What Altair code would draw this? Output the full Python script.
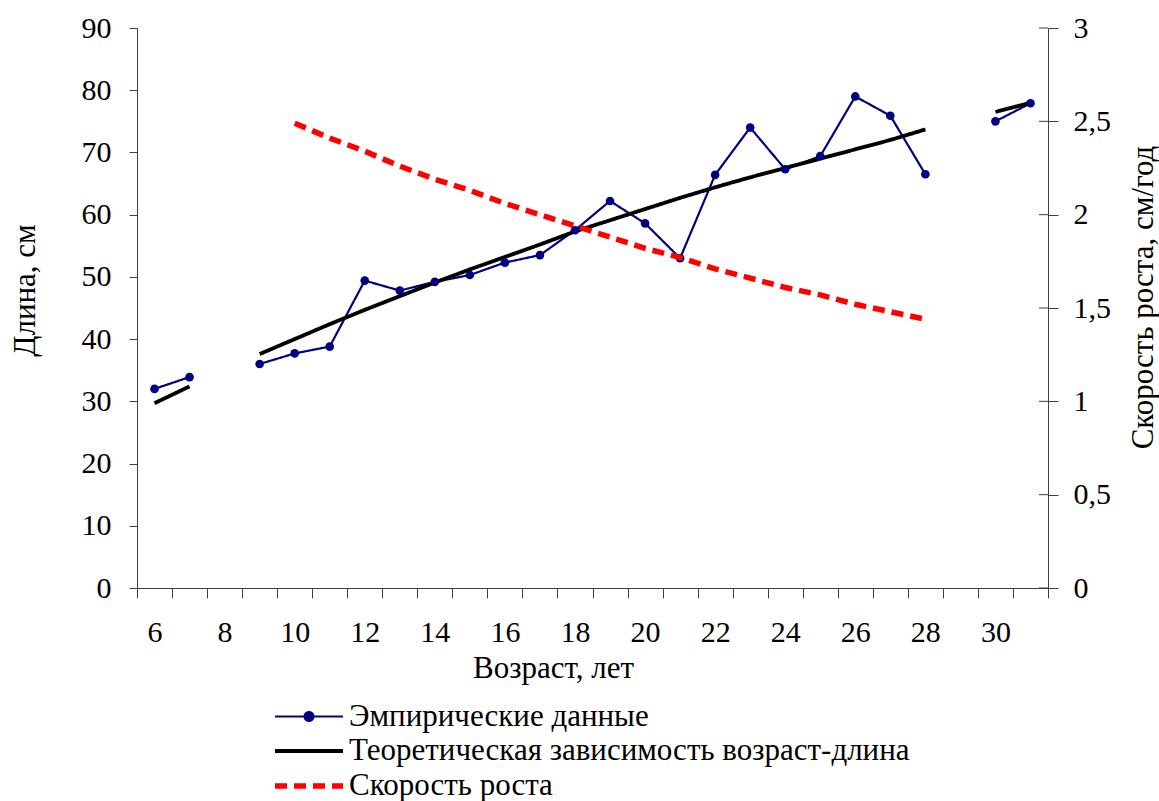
import altair as alt
import pandas as pd

# Ages (years) for each series
ages_emp = [6, 7, 9, 10, 11, 12, 13, 14, 15, 16, 17, 18, 19, 20, 21, 22, 23, 24,
            25, 26, 27, 28, 30, 31]
length_emp = [32.0, 33.9, 36.0, 37.7, 38.8, 49.4, 47.8, 49.2, 50.3, 52.3, 53.5,
              57.5, 62.2, 58.6, 53.0, 66.4, 74.0, 67.3, 69.4, 79.0, 75.9, 66.5,
              75.0, 77.9]
seg_emp = ["a", "a", "b", "b", "b", "b", "b", "b", "b", "b", "b", "b", "b", "b",
           "b", "b", "b", "b", "b", "b", "b", "b", "c", "c"]

ages_theor = [6, 7, 9, 10, 11, 12, 13, 14, 15, 16, 17, 18, 19, 20, 21, 22, 23,
              24, 25, 26, 27, 28, 30, 31]
length_theor = [29.7, 32.4, 37.6, 40.0, 42.4, 44.7, 46.9, 49.1, 51.2, 53.2, 55.2,
                57.3, 59.1, 60.9, 62.7, 64.4, 66.0, 67.5, 69.0, 70.5, 72.0, 73.7,
                76.5, 78.0]
seg_theor = seg_emp

ages_speed = [10, 11, 12, 13, 14, 15, 16, 17, 18, 19, 20, 21, 22, 23, 24, 25,
              26, 27, 28]
speed = [2.49, 2.41, 2.34, 2.26, 2.19, 2.13, 2.06, 2.00, 1.94, 1.88, 1.82, 1.77,
         1.71, 1.66, 1.61, 1.57, 1.52, 1.48, 1.44]

series_names = ["Эмпирические данные",
                "Теоретическая зависимость возраст-длина",
                "Скорость роста"]

x_ticks = [v + 0.5 for v in range(5, 32)]
left_ticks = list(range(0, 91, 10))
right_ticks = [0, 0.5, 1, 1.5, 2, 2.5, 3]

FONT = "Liberation Serif"
NAVY = "#000080"
W, H = 911, 560

len_df = pd.concat([
    pd.DataFrame({"age": ages_emp, "value": length_emp, "seg": seg_emp,
                  "series": series_names[0]}),
    pd.DataFrame({"age": ages_theor, "value": length_theor,
                  "seg": [s + "t" for s in seg_theor],
                  "series": series_names[1]}),
])
pts_df = pd.DataFrame({"age": ages_emp, "value": length_emp})
speed_df = pd.DataFrame({"age": ages_speed, "value": speed, "seg": "s",
                         "series": series_names[2]})
rtick_df = pd.DataFrame({"value": right_ticks})

x_enc = alt.X(
    "age:Q",
    scale=alt.Scale(domain=[5.5, 31.5], nice=False, zero=False),
    axis=alt.Axis(
        values=x_ticks,
        labelExpr="((datum.value + 0.5) % 2 == 0 && datum.value < 30.5) ? format(datum.value + 0.5, 'd') : ''",
        labelOffset=W / 26 / 2,
        tickSize=10,
        labelPadding=19,
        grid=False,
        title="Возраст, лет",
        titleX=416,
        titleY=89,
        titleBaseline="alphabetic",
        titleAlign="center",
        labelFlush=False,
        labelOverlap=False,
    ),
)

# legend keys: a wide stroke, with a dot for the empirical series
LINE_KEY = "M-2,0H2"
DOT_KEY = "M-2,0H2M-0.26,0A0.26,0.26,0,1,0,0.26,0A0.26,0.26,0,1,0,-0.26,0"

legend = alt.Legend(
    title=None,
    orient="none",
    legendX=152,
    legendY=670,
    direction="vertical",
    symbolType=alt.expr(
        f"datum.value == 'Эмпирические данные' ? '{DOT_KEY}' : '{LINE_KEY}'"
    ),
    symbolFillColor=alt.expr(
        "datum.value == 'Эмпирические данные' ? '#000080' : 'transparent'"
    ),
    symbolSize=1156,
    labelFont=FONT,
    labelFontSize=31,
    labelLimit=1000,
    labelOffset=20,
    rowPadding=0,
)

color_scale = alt.Scale(domain=series_names, range=[NAVY, "#000000", "#FF0000"])
width_scale = alt.Scale(domain=series_names, range=[2.2, 5.5, 4.5])
dash_scale = alt.Scale(domain=series_names, range=[[1, 0], [1, 0], [12, 7]])

def style_encodings():
    return dict(
        color=alt.Color("series:N", scale=color_scale, legend=legend),
        strokeWidth=alt.StrokeWidth("series:N", scale=width_scale, legend=legend),
        strokeDash=alt.StrokeDash("series:N", scale=dash_scale, legend=legend),
    )

left_axis = alt.Axis(
    values=left_ticks,
    tickSize=8,
    labelPadding=18,
    grid=False,
    title="Длина, см",
    titleAngle=270,
    titleX=-112,
    titleY=262,
    titleAlign="center",
    titleBaseline="middle",
)
left_scale = alt.Scale(domain=[0, 90], nice=False)

length_lines = alt.Chart(len_df).mark_line().encode(
    x=x_enc,
    y=alt.Y("value:Q", scale=left_scale, axis=left_axis),
    detail="seg:N",
    **style_encodings(),
)
points = alt.Chart(pts_df).mark_circle(size=75, color=NAVY, opacity=1).encode(
    x=x_enc,
    y=alt.Y("value:Q", scale=left_scale, axis=left_axis),
)
left = alt.layer(length_lines, points)

right_axis = alt.Axis(
    orient="right",
    values=right_ticks,
    labelExpr="replace(format(datum.value, ''), '.', ',')",
    tickSize=10,
    labelPadding=15,
    grid=False,
    title="Скорость роста, см/год",
    titleAngle=270,
    titleX=95,
    titleY=269,
    titleAlign="center",
    titleBaseline="middle",
)
right_scale = alt.Scale(domain=[0, 3], nice=False)

speed_line = alt.Chart(speed_df).mark_line().encode(
    x=x_enc,
    y=alt.Y("value:Q", scale=right_scale, axis=right_axis),
    detail="seg:N",
    **style_encodings(),
)
# inner half of the crossing ticks on the right axis
inner_ticks = alt.Chart(rtick_df).mark_rule(color="#404040", strokeWidth=1).encode(
    y=alt.Y("value:Q", scale=right_scale, axis=right_axis),
    x=alt.value(W - 9),
    x2=alt.value(W),
)
right = alt.layer(speed_line, inner_ticks)

chart = (
    alt.layer(left, right)
    .resolve_scale(y="independent")
    .properties(
        width=W,
        height=H,
        autosize=alt.AutoSizeParams(type="none"),
        padding={"left": 137, "top": 28, "right": 111, "bottom": 213},
    )
    .configure_view(stroke=None)
    .configure_axis(
        domainColor="#404040",
        tickColor="#404040",
        domainWidth=1,
        tickWidth=1,
        labelFont=FONT,
        labelFontSize=30,
        labelColor="#000000",
        titleFont=FONT,
        titleFontSize=31,
        titleFontWeight="normal",
        titleColor="#000000",
    )
    .configure_line(strokeCap="butt")
)

chart.save("out.html", embed_options={"renderer": "svg", "actions": False})
